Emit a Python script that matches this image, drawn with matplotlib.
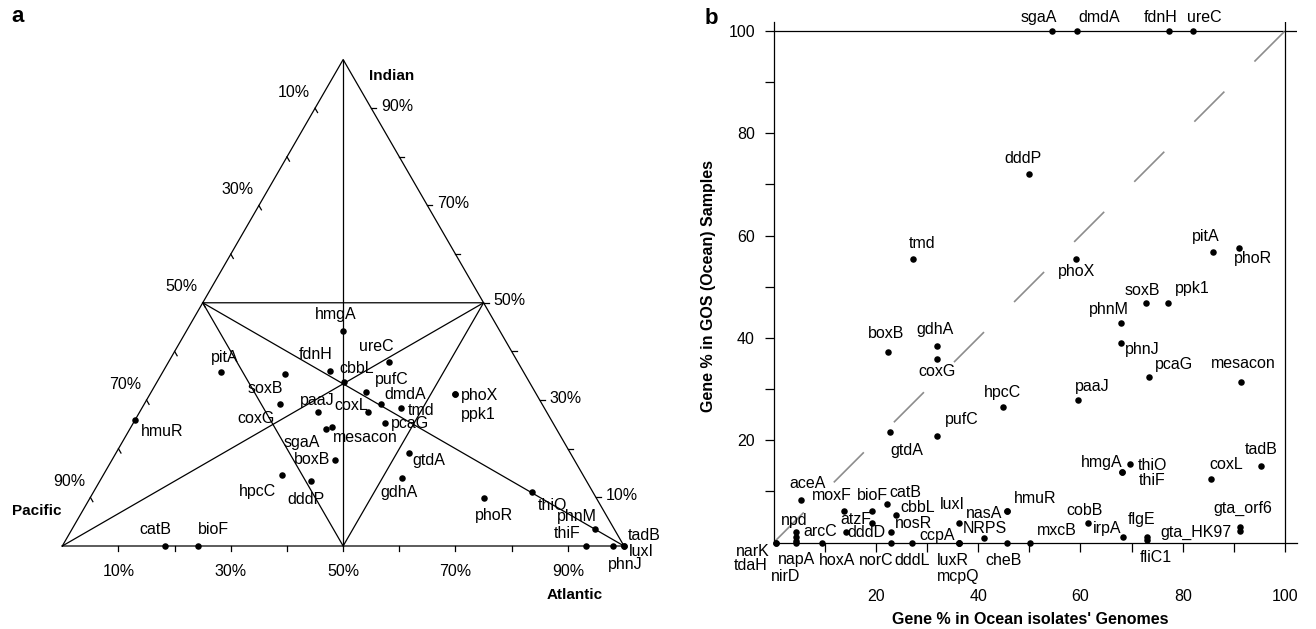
import numpy as np
import matplotlib.pyplot as plt

plt.rcParams['font.family'] = ['Liberation Sans', 'DejaVu Sans']
plt.rcParams['font.size'] = 11.5

# ---------------- panel a: gene share by ocean (percent) ----------------
tern_genes = ['catB', 'bioF', 'hmuR', 'pitA', 'soxB', 'coxG', 'fdnH', 'cbbL',
              'hmgA', 'ureC', 'pufC', 'dmdA', 'coxL', 'tmd', 'pcaG', 'paaJ',
              'sgaA', 'mesacon', 'boxB', 'hpcC', 'dddP', 'gtdA', 'gdhA', 'phoX',
              'ppk1', 'phoR', 'thiO', 'phnM', 'thiF', 'phnJ', 'tadB', 'luxI']
atlantic = [18.3, 24.2, 0.0, 10.4, 22.0, 24.2, 29.7, 33.3,
            27.9, 39.2, 38.2, 42.1, 40.7, 46.1, 44.8, 31.8,
            34.9, 35.7, 39.7, 31.8, 37.5, 52.2, 53.5, 54.4,
            54.4, 70.1, 78.2, 93.0, 93.2, 98.0, 100.0, 100.0]
indian = [0.0, 0.0, 26.0, 35.7, 35.3, 29.1, 36.0, 33.7,
          44.1, 37.8, 31.7, 29.2, 27.5, 28.3, 25.2, 27.5,
          24.1, 24.5, 17.7, 14.6, 13.4, 19.2, 13.9, 31.2,
          31.2, 9.8, 11.0, 3.5, 0.0, 0.0, 0.0, 0.0]
pacific = [81.7, 75.8, 74.0, 53.9, 42.7, 46.7, 34.3, 33.0,
           28.0, 23.0, 30.1, 28.7, 31.8, 25.6, 30.0, 40.7,
           41.0, 39.8, 42.6, 53.6, 49.1, 28.6, 32.6, 14.4,
           14.4, 20.1, 10.8, 3.5, 6.8, 2.0, 0.0, 0.0]
tern_ticks = [10, 20, 30, 40, 50, 60, 70, 80, 90]
tern_ticklabels = [10, 30, 50, 70, 90]

# label offsets, pixels (right, down)
tern_off = {'catB': (-10, -16), 'bioF': (15, -17), 'hmuR': (27, 12), 'pitA': (4, -15),
            'soxB': (-20, 14), 'coxG': (-24, 14), 'fdnH': (-15, -16), 'cbbL': (13, -14),
            'hmgA': (-7, -17), 'ureC': (-12, -16), 'pufC': (26, -12), 'dmdA': (24, -9),
            'coxL': (-17, -7), 'tmd': (20, 2), 'pcaG': (25, 0), 'paaJ': (-1, -12),
            'sgaA': (-24, 14), 'mesacon': (34, 11), 'boxB': (-23, 0), 'hpcC': (-24, 17),
            'dddP': (-5, 19), 'gtdA': (19, 8), 'gdhA': (-3, 14), 'phoX': (24, 1),
            'ppk1': (23, 20), 'phoR': (10, 17), 'thiO': (20, 13), 'phnM': (-18, -12),
            'thiF': (-19, -12), 'phnJ': (12, 18), 'tadB': (20, -10), 'luxI': (17, 5)}

# ---------------- panel b: isolates vs GOS samples ----------------
gos_genes = ['sgaA', 'dmdA', 'fdnH', 'ureC', 'dddP', 'tmd', 'phoX', 'pitA', 'phoR',
             'soxB', 'ppk1', 'phnM', 'phnJ', 'pcaG', 'mesacon', 'paaJ', 'hpcC', 'boxB',
             'gdhA', 'coxG', 'gtdA', 'pufC', 'hmgA', 'thiO', 'thiF', 'tadB', 'coxL',
             'aceA', 'moxF', 'bioF', 'catB', 'cbbL', 'luxI', 'nasA', 'hmuR', 'atzF',
             'npd', 'arcC', 'dddD', 'nosR', 'ccpA', 'NRPS', 'cobB', 'mxcB', 'irpA',
             'flgE', 'fliC1', 'gta_orf6', 'gta_HK97', 'narK', 'tdaH', 'napA', 'nirD',
             'hoxA', 'norC', 'dddL', 'luxR', 'mcpQ', 'cheB']
isolate_pct = [54.4, 59.3, 77.4, 82.1, 50.0, 27.3, 59.1, 86.0, 91.1,
               72.8, 77.1, 67.9, 67.9, 73.4, 91.4, 59.5, 44.8, 22.3,
               32.0, 32.0, 22.7, 32.0, 69.7, 68.2, 68.2, 95.3, 85.5,
               5.3, 13.7, 19.2, 22.2, 23.9, 36.3, 45.6, 45.6, 19.2,
               4.4, 4.4, 14.1, 22.9, 36.3, 41.1, 61.5, 50.1, 68.4,
               73.0, 73.0, 91.2, 91.2, 0.4, 0.4, 4.4, 4.4,
               9.4, 22.9, 27.0, 36.3, 36.3, 45.6]
gos_pct = [100, 100, 100, 100, 72.1, 55.4, 55.4, 56.7, 57.5,
           46.8, 46.8, 43.0, 39.0, 32.4, 31.4, 27.8, 26.4, 37.3,
           38.5, 35.9, 21.6, 20.8, 15.3, 13.7, 13.7, 15.0, 12.4,
           8.3, 6.2, 6.2, 7.6, 5.3, 3.9, 6.2, 6.2, 3.9,
           2.0, 1.0, 2.1, 2.1, 0.0, 0.8, 3.9, 0.0, 1.1,
           1.1, 0.4, 3.1, 2.2, 0.0, 0.0, 0.3, 0.0,
           0.0, 0.0, 0.0, 0.0, 0.0, 0.0]
b_ticks = [10, 20, 30, 40, 50, 60, 70, 80, 90, 100]

gos_off = {'sgaA': (-13, -14), 'dmdA': (22, -14), 'fdnH': (-9, -14), 'ureC': (11, -14),
           'dddP': (-6, -15), 'tmd': (9, -16), 'phoX': (1, 12), 'pitA': (-8, -16),
           'phoR': (14, 10), 'soxB': (-4, -13), 'ppk1': (24, -15), 'phnM': (-12, -13),
           'phnJ': (21, 6), 'pcaG': (25, -12), 'mesacon': (2, -18), 'paaJ': (14, -14),
           'hpcC': (0, -15), 'boxB': (-2, -18), 'gdhA': (-2, -16), 'coxG': (0, 13),
           'gtdA': (17, 18), 'pufC': (24, -17), 'hmgA': (-28, -2), 'thiO': (30, -7),
           'thiF': (30, 8), 'tadB': (0, -16), 'coxL': (15, -15), 'aceA': (7, -17),
           'moxF': (-12, -15), 'bioF': (1, -15), 'catB': (18, -11), 'cbbL': (22, -8),
           'luxI': (-7, -18), 'nasA': (-23, 3), 'hmuR': (28, -12), 'atzF': (-16, -3),
           'npd': (-2, -12), 'arcC': (24, -6), 'dddD': (21, 1), 'nosR': (23, -8),
           'ccpA': (-22, -7), 'NRPS': (1, -10), 'cobB': (-4, -12), 'mxcB': (27, -12),
           'irpA': (-16, -8), 'flgE': (-5, -17), 'fliC1': (9, 17), 'gta_orf6': (3, -18),
           'gta_HK97': (-44, 1), 'narK': (-23, 9), 'tdaH': (-25, 23), 'napA': (0, 19),
           'nirD': (-11, 34), 'hoxA': (15, 18), 'norC': (-15, 18), 'dddL': (0, 18),
           'luxR': (-6, 18), 'mcpQ': (-1, 34), 'cheB': (-3, 18)}

W, H = 1316, 629
fig = plt.figure(figsize=(W / 100, H / 100), dpi=100)

# ---- a ----
s = 561.7  # pixels per unit side
axa = fig.add_axes([0, 0, 680 / W, 1])
axa.set_xlim(-62.3 / s, (680 - 62.3) / s)
axa.set_ylim(-(H - 546) / s, 546 / s)
axa.axis('off')
h = np.sqrt(3) / 2
lw = 0.9
axa.plot([0, 1, 0.5, 0], [0, 0, h, 0], color='k', lw=lw)
axa.plot([0.25, 0.75, 0.5, 0.25], [h / 2, h / 2, 0, h / 2], color='k', lw=lw)
axa.plot([0.5, 0.5], [h, 0], color='k', lw=lw)
axa.plot([0, 0.75], [0, h / 2], color='k', lw=lw)
axa.plot([1, 0.25], [0, h / 2], color='k', lw=lw)

tk = 5 / s
for t in tern_ticks:
    f = t / 100
    # bottom (Atlantic)
    axa.plot([f, f], [0, -tk], color='k', lw=lw)
    # right (Indian)
    xr, yr = 1 - 0.5 * f, f * h
    axa.plot([xr, xr + tk], [yr, yr], color='k', lw=lw)
    # left (Pacific)
    xl, yl = 0.5 * (1 - f), (1 - f) * h
    axa.plot([xl, xl + 0.5 * tk], [yl, yl - h * tk], color='k', lw=lw)
    if t in tern_ticklabels:
        axa.annotate(f'{t}%', (f, 0), xytext=(0, -25.7), textcoords='offset pixels',
                     ha='center', va='center')
        axa.annotate(f'{t}%', (xr, yr), xytext=(26, 2), textcoords='offset pixels',
                     ha='center', va='center')
        axa.annotate(f'{t}%', (xl, yl), xytext=(-21, 16), textcoords='offset pixels',
                     ha='center', va='center')

axa.text(0.5864, 0.8368, 'Indian', ha='center', va='center', fontweight='bold', fontsize=11)
axa.text(-0.0456, 0.0628, 'Pacific', ha='center', va='center', fontweight='bold', fontsize=11)
axa.text(0.9128, -0.0872, 'Atlantic', ha='center', va='center', fontweight='bold', fontsize=11)

tx = np.array(atlantic) / 100 + 0.5 * np.array(indian) / 100
ty = np.array(indian) / 100 * h
axa.scatter(tx, ty, s=22, color='k', zorder=3, clip_on=False, linewidths=0)
for g, x, y in zip(tern_genes, tx, ty):
    dx, dy = tern_off[g]
    axa.annotate(g, (x, y), xytext=(dx, -dy), textcoords='offset pixels',
                 ha='center', va='center')

# ---- b ----
axb = fig.add_axes([773.7 / W, 86.5 / H, 523 / W, 520.7 / H])
axb.set_xlim(0, 102.3)
axb.set_ylim(0, 101.8)
for side in ['top', 'right']:
    axb.spines[side].set_visible(False)
for side in ['left', 'bottom']:
    axb.spines[side].set_linewidth(lw)
axb.axhline(100, color='k', lw=lw)
axb.axvline(100, color='k', lw=lw)
axb.plot([0, 100], [0, 100], color='#8c8c8c', lw=1.2, dashes=(25.5, 25.5))

lbls = [str(v) if v % 20 == 0 else '' for v in b_ticks]
axb.set_xticks(b_ticks)
axb.set_xticklabels(lbls)
axb.set_yticks(b_ticks)
axb.set_yticklabels(lbls)
axb.tick_params(direction='out', length=6.5, width=lw, labelsize=11.5)
axb.tick_params(axis='x', pad=27)
axb.tick_params(axis='y', pad=7)

axb.scatter(isolate_pct, gos_pct, s=22, color='k', zorder=3, clip_on=False, linewidths=0)
for g, x, y in zip(gos_genes, isolate_pct, gos_pct):
    dx, dy = gos_off[g]
    axb.annotate(g, (x, y), xytext=(dx, -dy), textcoords='offset pixels',
                 ha='center', va='center', annotation_clip=False)

fig.text(708 / W, 1 - 286 / H, 'Gene % in GOS (Ocean) Samples', rotation=90,
         ha='center', va='center', fontweight='bold', fontsize=11.5)
fig.text(1030.5 / W, 1 - 620 / H, "Gene % in Ocean isolates' Genomes",
         ha='center', va='center', fontweight='bold', fontsize=11.5)

fig.text(18 / W, 1 - 17 / H, 'a', ha='center', va='center', fontsize=16, fontweight='bold')
fig.text(711 / W, 1 - 19 / H, 'b', ha='center', va='center', fontsize=16, fontweight='bold')

fig.savefig('out.png', dpi=100)
